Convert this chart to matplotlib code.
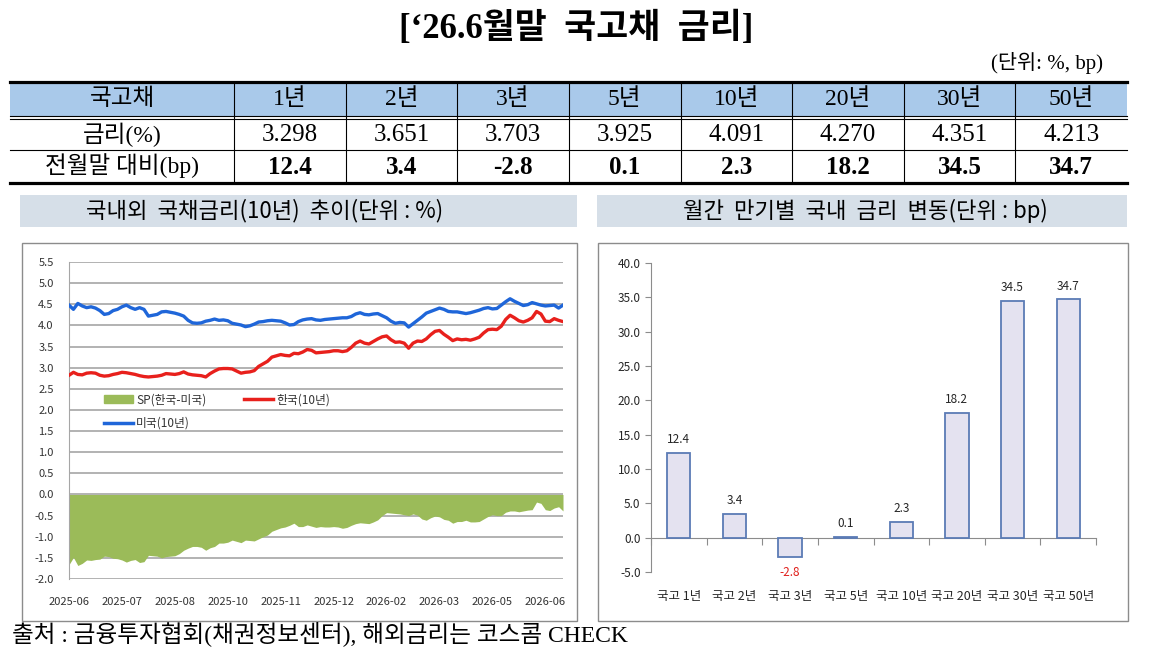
import matplotlib
matplotlib.use('Agg')
import matplotlib.pyplot as plt
from matplotlib.patches import Rectangle, Patch
from matplotlib.lines import Line2D
import numpy as np

# 폰트 설정
plt.rcParams['font.family'] = ['Noto Sans CJK KR', 'DejaVu Sans']
plt.rcParams['axes.unicode_minus'] = False
SERIF = ['Liberation Serif', 'Noto Sans CJK KR']

# 표 데이터
maturities = ['1년', '2년', '3년', '5년', '10년', '20년', '30년', '50년']
rates = [3.298, 3.651, 3.703, 3.925, 4.091, 4.270, 4.351, 4.213]
change_bp = [12.4, 3.4, -2.8, 0.1, 2.3, 18.2, 34.5, 34.7]
bar_labels = ['국고 1년', '국고 2년', '국고 3년', '국고 5년',
              '국고 10년', '국고 20년', '국고 30년', '국고 50년']

# 국고채 10년 (한국)
kr10 = [2.82, 2.89, 2.84, 2.83, 2.87, 2.88, 2.87, 2.82, 2.80, 2.81,
        2.84, 2.86, 2.89, 2.88, 2.86, 2.84, 2.81, 2.79, 2.78, 2.79,
        2.80, 2.82, 2.86, 2.85, 2.84, 2.86, 2.90, 2.85, 2.83, 2.82,
        2.81, 2.78, 2.86, 2.92, 2.97, 2.98, 2.98, 2.97, 2.92, 2.87,
        2.89, 2.90, 2.93, 3.03, 3.09, 3.15, 3.25, 3.28, 3.31, 3.29,
        3.28, 3.34, 3.33, 3.37, 3.43, 3.41, 3.35, 3.36, 3.37, 3.38,
        3.40, 3.40, 3.38, 3.40, 3.48, 3.58, 3.63, 3.58, 3.56, 3.62,
        3.68, 3.73, 3.75, 3.66, 3.60, 3.61, 3.58, 3.46, 3.58, 3.63,
        3.62, 3.68, 3.78, 3.86, 3.88, 3.79, 3.72, 3.64, 3.68, 3.66,
        3.67, 3.65, 3.68, 3.72, 3.82, 3.90, 3.91, 3.90, 3.98, 4.14,
        4.24, 4.18, 4.11, 4.08, 4.12, 4.18, 4.33, 4.27, 4.10, 4.09,
        4.16, 4.12, 4.09]
# 미국채 10년
us10 = [4.48, 4.38, 4.52, 4.46, 4.42, 4.44, 4.41, 4.35, 4.26, 4.28,
        4.35, 4.38, 4.44, 4.48, 4.42, 4.38, 4.42, 4.38, 4.22, 4.24,
        4.26, 4.32, 4.33, 4.31, 4.29, 4.26, 4.22, 4.12, 4.06, 4.05,
        4.06, 4.10, 4.12, 4.15, 4.12, 4.13, 4.11, 4.05, 4.03, 4.01,
        3.97, 3.99, 4.03, 4.08, 4.09, 4.11, 4.12, 4.11, 4.10, 4.06,
        4.01, 4.02, 4.09, 4.13, 4.15, 4.16, 4.13, 4.12, 4.14, 4.15,
        4.16, 4.17, 4.18, 4.18, 4.21, 4.27, 4.30, 4.26, 4.25, 4.27,
        4.28, 4.23, 4.18, 4.10, 4.05, 4.07, 4.06, 3.96, 4.04, 4.12,
        4.20, 4.29, 4.33, 4.37, 4.41, 4.38, 4.33, 4.32, 4.32, 4.30,
        4.28, 4.30, 4.33, 4.36, 4.40, 4.42, 4.39, 4.40, 4.48, 4.56,
        4.63, 4.57, 4.52, 4.47, 4.49, 4.54, 4.51, 4.48, 4.46, 4.47,
        4.48, 4.41, 4.48]
date_labels = ['2025-06', '2025-07', '2025-08', '2025-10', '2025-11',
               '2025-12', '2026-02', '2026-03', '2026-05', '2026-06']

W, H = 1152, 652
fig = plt.figure(figsize=(W / 100, H / 100), dpi=100)


def rect(x0, y0, x1, y1):
    return [x0 / W, 1 - y1 / H, (x1 - x0) / W, (y1 - y0) / H]


# 배경 (픽셀 좌표)
bg = fig.add_axes([0, 0, 1, 1])
bg.set_xlim(0, W)
bg.set_ylim(H, 0)
bg.axis('off')

bg.text(576, 29, '[‘26.6월말  국고채  금리]', ha='center', va='center',
        fontsize=25, fontweight='bold', family=SERIF)
bg.text(1103, 63, '(단위: %, bp)', ha='right', va='center', fontsize=15, family=SERIF)

# 표
tx0, tx1, c0 = 10, 1127, 234
cw = (tx1 - c0) / len(maturities)
bg.add_patch(Rectangle((tx0, 82), tx1 - tx0, 34, color='#a9c9ea', lw=0))
bg.plot([tx0, tx1], [82, 82], color='black', lw=2.3)
bg.plot([tx0, tx1], [116, 116], color='black', lw=0.8)
bg.plot([tx0, tx1], [119, 119], color='black', lw=0.8)
bg.plot([tx0, tx1], [150, 150], color='black', lw=0.8)
bg.plot([tx0, tx1], [183, 183], color='black', lw=2.3)
for k in range(len(maturities)):
    bg.plot([c0 + k * cw] * 2, [82, 183], color='black', lw=0.8)

bg.text((tx0 + c0) / 2, 99, '국고채', ha='center', va='center', fontsize=17, family=SERIF)
bg.text((tx0 + c0) / 2, 135, '금리(%)', ha='center', va='center', fontsize=17, family=SERIF)
bg.text((tx0 + c0) / 2, 166, '전월말 대비(bp)', ha='center', va='center', fontsize=17, family=SERIF)
for k, (m, r, c) in enumerate(zip(maturities, rates, change_bp)):
    cx = c0 + (k + 0.5) * cw
    bg.text(cx, 99, m, ha='center', va='center', fontsize=17, family=SERIF)
    bg.text(cx, 135, '%.3f' % r, ha='center', va='center', fontsize=18, family=SERIF)
    bg.text(cx, 167, '%.1f' % c, ha='center', va='center', fontsize=18,
            fontweight='bold', family=SERIF)

# 패널 제목
bg.add_patch(Rectangle((20, 195), 557, 32, color='#d6dfe8', lw=0))
bg.text(265, 211, '국내외  국채금리(10년)  추이(단위 : %)', ha='center', va='center', fontsize=16)
bg.add_patch(Rectangle((597, 195), 530, 32, color='#d6dfe8', lw=0))
bg.text(865, 211, '월간  만기별  국내  금리  변동(단위 : bp)', ha='center', va='center', fontsize=16)

# 차트 테두리
bg.add_patch(Rectangle((22, 243), 555, 378, fc='white', ec='#8c8c8c', lw=1))
bg.add_patch(Rectangle((598, 243), 530, 378, fc='white', ec='#8c8c8c', lw=1))

bg.text(12, 634, '출처 : 금융투자협회(채권정보센터), 해외금리는 코스콤 CHECK',
        ha='left', va='center', fontsize=17, family=SERIF)

# 왼쪽 차트: 국내외 10년 금리
ax1 = fig.add_axes(rect(69, 262, 563, 579))
ax1.set_facecolor('none')
x = np.arange(len(kr10))
spread = np.array(kr10) - np.array(us10)
ax1.fill_between(x, spread, 0, color='#9bbb59', lw=0, zorder=2)
ax1.plot(x, kr10, color='#e8201c', lw=2.4, zorder=3)
ax1.plot(x, us10, color='#1f66d9', lw=2.4, zorder=3)
ax1.set_xlim(0, len(kr10) - 1)
ax1.set_ylim(-2, 5.5)
yt = np.arange(-2, 5.51, 0.5)
ax1.set_yticks(yt, labels=['%.1f' % v for v in yt])
ax1.set_xticks(x[::12][:len(date_labels)], labels=date_labels)
ax1.grid(axis='y', color='#a6a6a6', lw=1.2, zorder=1)
for s in ['top', 'right', 'bottom']:
    ax1.spines[s].set_visible(False)
ax1.spines['left'].set_color('#a6a6a6')
ax1.tick_params(axis='y', length=0, pad=11, labelsize=8, labelcolor='#333333')
ax1.tick_params(axis='x', length=0, pad=13, labelsize=8, labelcolor='#333333')
handles = [Patch(color='#9bbb59', label='SP(한국-미국)'),
           Line2D([], [], color='#1f66d9', lw=2.5, label='미국(10년)'),
           Line2D([], [], color='#e8201c', lw=2.5, label='한국(10년)')]
ax1.legend(handles=handles, ncol=2, frameon=False, fontsize=8.5, loc='upper left',
           bbox_to_anchor=(0.05, 0.62), handlelength=2.4, columnspacing=3.2,
           labelspacing=0.9, handletextpad=0.3, labelcolor='#333333')

# 오른쪽 차트: 만기별 변동
ax2 = fig.add_axes(rect(651, 263, 1096, 572))
ax2.set_facecolor('none')
pos = np.arange(len(change_bp))
ax2.bar(pos, change_bp, width=0.42, color='#e4e2f0', edgecolor='#5b7bb5', lw=1.3, zorder=2)
ax2.set_xlim(-0.5, len(change_bp) - 0.5)
ax2.set_ylim(-5, 40)
yt2 = np.arange(-5, 40.1, 5)
ax2.set_yticks(yt2, labels=['%.1f' % v for v in yt2])
ax2.get_yticklabels()[0].set_color('#e0201c')
ax2.set_xticks(pos, labels=bar_labels)
for s in ['top', 'right', 'bottom']:
    ax2.spines[s].set_visible(False)
ax2.spines['left'].set_color('#8c8c8c')
ax2.tick_params(axis='y', length=4, color='#8c8c8c', labelsize=8.5, labelcolor='#262626')
ax2.tick_params(axis='x', length=0, pad=13, labelsize=9, labelcolor='#262626')
zero_ax = ax2.secondary_xaxis((0 - (-5)) / 45)
zero_ax.set_xticks(np.arange(-0.5, len(change_bp), 1), labels=[])
zero_ax.spines['bottom'].set_color('#8c8c8c')
zero_ax.tick_params(length=5, color='#8c8c8c')
for i, v in enumerate(change_bp):
    if v >= 0:
        ax2.text(i, v + 1.0, '%.1f' % v, ha='center', va='bottom', fontsize=8.5, color='#262626')
    else:
        ax2.text(i, v - 1.3, '%.1f' % v, ha='center', va='top', fontsize=8.5, color='#e0201c')

fig.savefig('out.png', dpi=100)
